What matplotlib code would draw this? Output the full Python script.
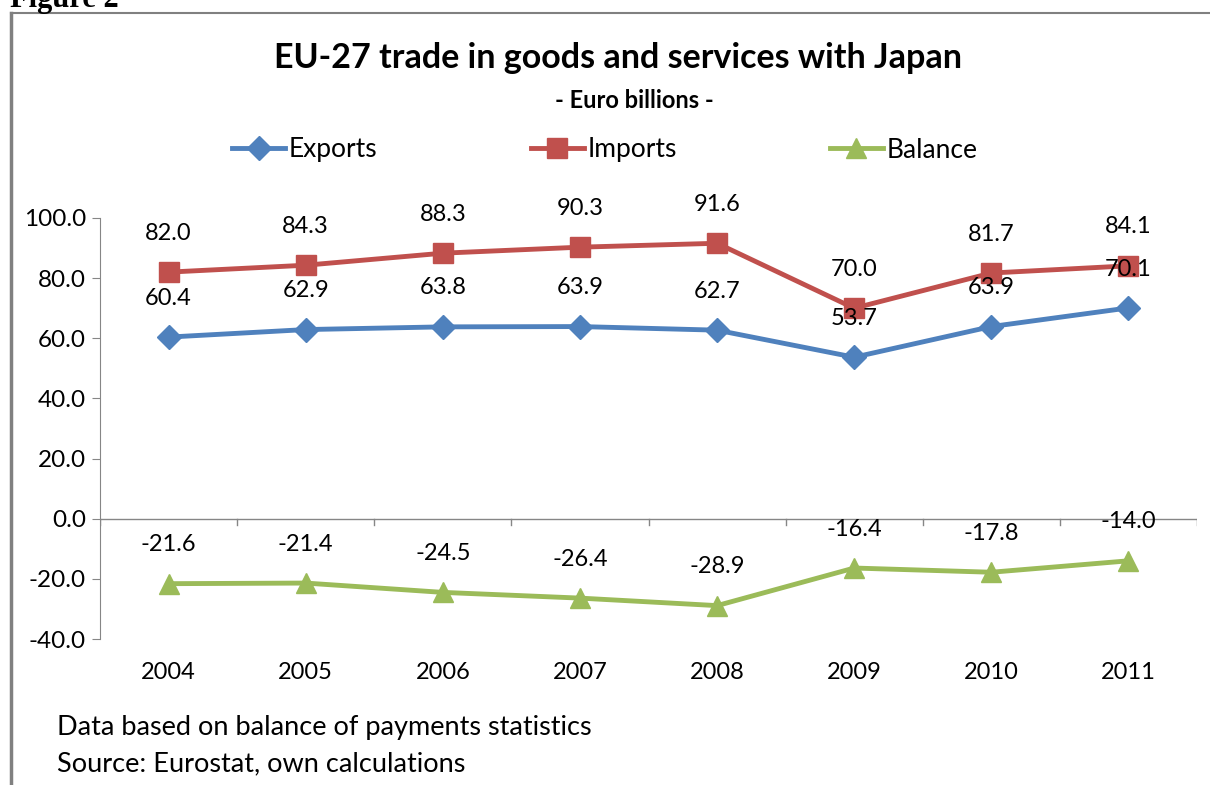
import matplotlib.pyplot as plt

years = ["2004", "2005", "2006", "2007", "2008", "2009", "2010", "2011"]
exports = [60.4, 62.9, 63.8, 63.9, 62.7, 53.7, 63.9, 70.1]
imports = [82.0, 84.3, 88.3, 90.3, 91.6, 70.0, 81.7, 84.1]
balance = [-21.6, -21.4, -24.5, -26.4, -28.9, -16.4, -17.8, -14.0]

plt.rcParams['font.family'] = ['Lato', 'DejaVu Sans']

fig = plt.figure(figsize=(12.1, 7.85), dpi=100)
ax = fig.add_axes([100 / 1210, 1 - 639 / 785, 1097 / 1210, 421 / 785])

x = list(range(len(years)))
series = [
    ("Exports", exports, "#4F81BD", "D", 12),
    ("Imports", imports, "#C0504D", "s", 15),
    ("Balance", balance, "#9BBB59", "^", 15),
]
for name, vals, color, marker, ms in series:
    ax.plot(x, vals, color=color, lw=3.5, marker=marker, ms=ms, label=name)
    for xi, v in zip(x, vals):
        ax.annotate("%.1f" % v, (xi, v), xytext=(0, 28), textcoords="offset points",
                    ha="center", va="center", fontsize=17, color="black")

ax.set_xlim(-0.5, 7.5)
ax.set_ylim(-40, 100)
ax.set_yticks([-40, -20, 0, 20, 40, 60, 80, 100])
ax.set_yticklabels(["%.1f" % t for t in ax.get_yticks()], fontsize=17.5)
ax.set_xticks([])
for s in ["top", "right", "bottom"]:
    ax.spines[s].set_visible(False)
ax.spines["left"].set_color("#868686")
ax.tick_params(axis="y", length=6, color="#868686", pad=4)

# category axis drawn at zero
ax.axhline(0, color="#868686", lw=1)
for b in [i + 0.5 for i in range(-1, 8)]:
    ax.plot([b, b], [0, -2.2], color="#868686", lw=1)
for xi, yr in zip(x, years):
    ax.text(xi, -51, yr, ha="center", va="center", fontsize=17)

fig.text(618 / 1210, 1 - 58 / 785, "EU-27 trade in goods and services with Japan",
         ha="center", va="center", fontsize=24.5, fontweight="bold")
fig.text(634 / 1210, 1 - 100 / 785, "- Euro billions -",
         ha="center", va="center", fontsize=17, fontweight="bold")

leg = fig.legend(loc="center", bbox_to_anchor=(605 / 1210, 1 - 150 / 785), ncol=3,
                 frameon=False, fontsize=19, columnspacing=5.8, handlelength=2.0,
                 handletextpad=0.15)

fig.text(57 / 1210, 1 - 727 / 785, "Data based on balance of payments statistics",
         ha="left", va="center", fontsize=19.5)
fig.text(57 / 1210, 1 - 764 / 785, "Source: Eurostat, own calculations",
         ha="left", va="center", fontsize=19.5)

# frame lines and heading
fig.add_artist(plt.Line2D([11 / 1210, 11 / 1210], [0, 1 - 13 / 785], color="#808080", lw=2.5))
fig.add_artist(plt.Line2D([11 / 1210, 1], [1 - 13 / 785, 1 - 13 / 785], color="#808080", lw=1.5))
fig.text(10 / 1210, 1 - 7 / 785, "Figure 2", ha="left", va="baseline", fontsize=22,
         fontweight="bold", family="Liberation Serif")

fig.savefig("out.png", dpi=100)
